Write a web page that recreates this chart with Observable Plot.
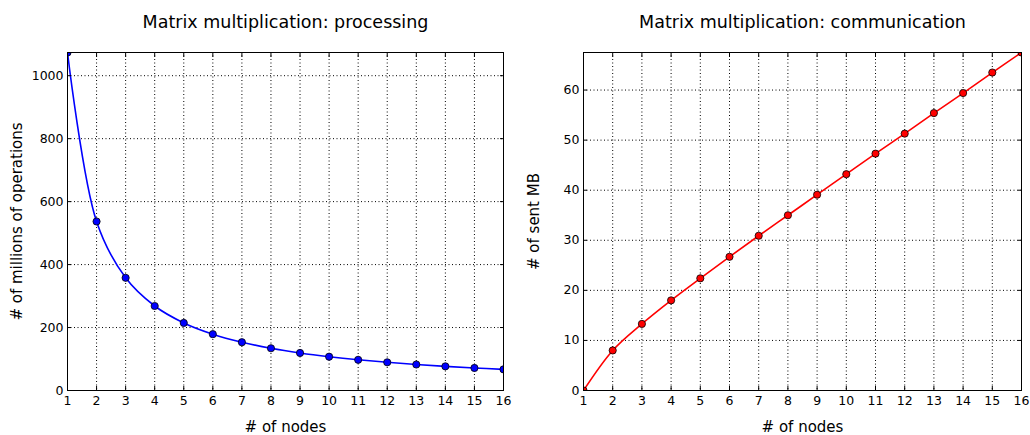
<!DOCTYPE html>
<html>
<head>
<meta charset="utf-8">
<script src="https://cdn.jsdelivr.net/npm/d3@7"></script>
<script src="https://cdn.jsdelivr.net/npm/@observablehq/plot@0.6"></script>
<style>
  html, body { margin: 0; padding: 0; background: #fff; }
  #wrap { display: flex; width: 1030px; height: 435px; }
  svg { font-family: "DejaVu Sans", sans-serif; }
</style>
</head>
<body>
<div id="wrap"></div>
<script>
const nodes = [1, 2, 3, 4, 5, 6, 7, 8, 9, 10, 11, 12, 13, 14, 15, 16];
const millionsOps = [1073.7, 536.9, 357.9, 268.4, 214.7, 179.0, 153.4, 134.2, 119.3, 107.4, 97.6, 89.5, 82.6, 76.7, 71.6, 67.1];
const sentMB = [0, 8.0, 13.3, 18.0, 22.4, 26.7, 30.9, 35.0, 39.1, 43.2, 47.3, 51.3, 55.4, 59.4, 63.5, 67.5];
const xTicks = nodes;
const yTicksOps = [0, 200, 400, 600, 800, 1000];
const yTicksMB = [0, 10, 20, 30, 40, 50, 60];

function panel({values, color, yTicks, yMax, title, ylabel, marginLeft, marginRight, ylabelDx}) {
  const data = nodes.map((n, i) => ({n, v: values[i]}));
  const fmt = d => String(d);
  return Plot.plot({
    width: 515,
    height: 435,
    marginTop: 52,
    marginBottom: 45,
    marginLeft,
    marginRight,
    style: {fontFamily: "DejaVu Sans, sans-serif", fontSize: "12.5px", color: "#000", background: "#fff"},
    x: {domain: [1, 16]},
    y: {domain: [0, yMax]},
    marks: [
      Plot.gridX(xTicks, {stroke: "#000", strokeOpacity: 1, strokeWidth: 1, strokeDasharray: "1,2.5"}),
      Plot.gridY(yTicks, {stroke: "#000", strokeOpacity: 1, strokeWidth: 1, strokeDasharray: "1,2.5"}),
      Plot.line(data, {x: "n", y: "v", stroke: color, strokeWidth: 1.6, curve: "catmull-rom", clip: "frame"}),
      Plot.dot(data, {x: "n", y: "v", r: 3.6, fill: color, stroke: "#000", strokeWidth: 0.8, clip: "frame"}),
      Plot.axisX(xTicks, {anchor: "bottom", tickSize: -4, tickPadding: 10, tickFormat: fmt, label: null, fontSize: 12.5}),
      Plot.axisX(xTicks, {anchor: "top", tickSize: -4, tickFormat: () => "", label: null}),
      Plot.axisY(yTicks, {anchor: "left", tickSize: -4, tickPadding: 8, tickFormat: fmt, label: null, fontSize: 12.5}),
      Plot.axisY(yTicks, {anchor: "right", tickSize: -4, tickFormat: () => "", label: null}),
      Plot.frame({stroke: "#000", strokeWidth: 1}),
      Plot.text([title], {frameAnchor: "top", dy: -30, fontSize: 17.5, lineAnchor: "middle", fill: "#000"}),
      Plot.text(["# of nodes"], {frameAnchor: "bottom", dy: 37, fontSize: 15, lineAnchor: "middle", fill: "#000"}),
      Plot.text([ylabel], {frameAnchor: "left", dx: ylabelDx, rotate: -90, textAnchor: "middle", fontSize: 15, lineAnchor: "middle", fill: "#000"})
    ]
  });
}

const wrap = document.getElementById("wrap");
wrap.appendChild(panel({
  values: millionsOps, color: "#0000ff", yTicks: yTicksOps, yMax: 1073.7,
  title: "Matrix multiplication: processing", ylabel: "# of millions of operations",
  marginLeft: 67, marginRight: 12, ylabelDx: -50
}));
wrap.appendChild(panel({
  values: sentMB, color: "#ff0000", yTicks: yTicksMB, yMax: 67.5,
  title: "Matrix multiplication: communication", ylabel: "# of sent MB",
  marginLeft: 68, marginRight: 9, ylabelDx: -49
}));
</script>
</body>
</html>
